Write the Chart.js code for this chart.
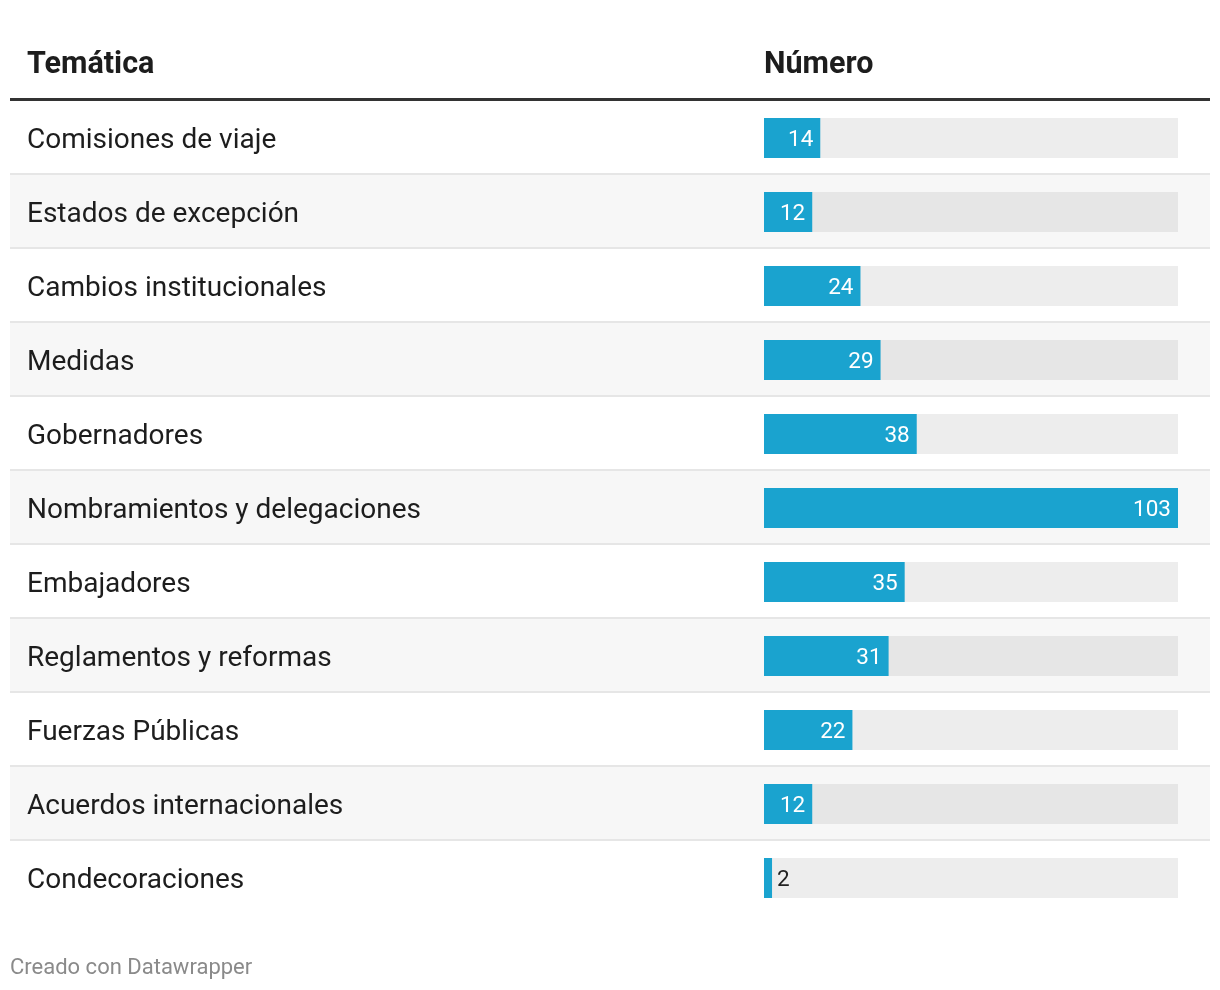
<!DOCTYPE html>
<html><head><meta charset="utf-8">
<script src="https://cdn.jsdelivr.net/npm/chart.js@4/dist/chart.umd.min.js"></script>
<style>html,body{margin:0;padding:0;background:#fff}#wrap{width:1220px;height:990px;position:relative}</style>
</head><body><div id="wrap"><canvas id="c" width="1220" height="990"></canvas></div>
<script>
const categories = ["Comisiones de viaje","Estados de excepción","Cambios institucionales","Medidas","Gobernadores","Nombramientos y delegaciones","Embajadores","Reglamentos y reformas","Fuerzas Públicas","Acuerdos internacionales","Condecoraciones"];
const values = [14,12,24,29,38,103,35,31,22,12,2];
const scaleMax = 103;
const headers = ["Temática","Número"];
const footer = "Creado con Datawrapper";

const FONT = "Roboto, 'Noto Sans', sans-serif";
const tableDecor = {
  id:'tableDecor',
  beforeDatasetsDraw(chart){
    const ctx = chart.ctx, y = chart.scales.y, a = chart.chartArea;
    ctx.save();
    const n = categories.length;
    const pitch = (a.bottom - a.top)/n;
    for(let i=0;i<n;i++){
      const top = a.top + i*pitch;
      if(i%2===1){ ctx.fillStyle='#f7f7f7'; ctx.fillRect(10, top, 1200, pitch); }
      if(i<n-1){ ctx.fillStyle='#e6e6e6'; ctx.fillRect(10, top+pitch-2, 1200, 2); }
    }
    // header
    ctx.fillStyle='#333333'; ctx.fillRect(10, a.top-3, 1200, 3);
    ctx.fillStyle='#1d1d1d'; ctx.textBaseline='middle'; ctx.textAlign='left';
    ctx.font = "bold 30.5px "+FONT;
    ctx.fillText(headers[0], 27, 65);
    ctx.fillText(headers[1], 764, 65);
    ctx.font = "28px "+FONT;
    categories.forEach((c,i)=>{ ctx.fillText(c, 27, y.getPixelForValue(i)+3); });
    ctx.fillStyle='#8a8a8a'; ctx.font = "22px "+FONT;
    ctx.fillText(footer, 10, 968);
    ctx.restore();
  },
  afterDatasetsDraw(chart){
    const ctx = chart.ctx, meta = chart.getDatasetMeta(1);
    ctx.save(); ctx.font = "22.5px "+FONT; ctx.textBaseline='middle';
    meta.data.forEach((bar,i)=>{
      const txt = String(values[i]);
      const w = ctx.measureText(txt).width;
      if(bar.x - bar.base > w + 14){
        ctx.fillStyle='#ffffff'; ctx.textAlign='right';
        ctx.fillText(txt, bar.x - 7, bar.y+2);
      } else {
        ctx.fillStyle='#222222'; ctx.textAlign='left';
        ctx.fillText(txt, bar.x + 5, bar.y+2);
      }
    });
    ctx.restore();
  }
};

new Chart(document.getElementById('c'), {
  type:'bar',
  data:{
    labels: categories,
    datasets:[
      {data: categories.map(()=>scaleMax), backgroundColor: categories.map((_,i)=> i%2 ? '#e6e6e6' : '#ededed'), barPercentage: 40/74, categoryPercentage:1, grouped:false, order:2},
      {data: values, backgroundColor:'#1aa3cf', barPercentage: 40/74, categoryPercentage:1, grouped:false, order:1}
    ]
  },
  options:{
    indexAxis:'y', responsive:false, animation:false,
    layout:{padding:{left:764, right:42, top:101, bottom:75}},
    plugins:{legend:{display:false}, tooltip:{enabled:false}},
    scales:{
      x:{display:false, min:0, max:scaleMax},
      y:{display:false}
    }
  },
  plugins:[tableDecor]
});
</script></body></html>
